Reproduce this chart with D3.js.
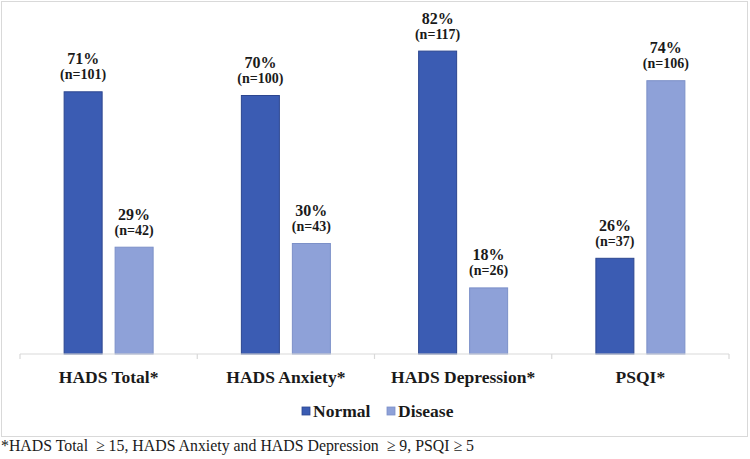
<!DOCTYPE html>
<html>
<head>
<meta charset="utf-8">
<script src="https://cdn.jsdelivr.net/npm/d3@7"></script>
<style>
  html, body { margin: 0; padding: 0; background: #fff; }
  svg { display: block; }
  svg text { font-family: "Liberation Serif", "Times New Roman", Times, serif; }
</style>
</head>
<body>
<svg id="chart" width="750" height="459"></svg>
<script>
const categories = ["HADS Total*", "HADS Anxiety*", "HADS Depression*", "PSQI*"];
const seriesNames = ["Normal", "Disease"];
const normalPct = [71, 70, 82, 26];
const normalN = [101, 100, 117, 37];
const diseasePct = [29, 30, 18, 74];
const diseaseN = [42, 43, 26, 106];
const footnote = "*HADS Total  \u2265 15, HADS Anxiety and HADS Depression  \u2265 9, PSQI \u2265 5";

const colors = { Normal: "#3B5CB3", Disease: "#8EA1D8" };
const strokes = { Normal: "#2C4690", Disease: "#7C90C8" };

const svg = d3.select("#chart");

// frame
svg.append("rect").attr("x", 1.5).attr("y", 1.5).attr("width", 746).attr("height", 435)
  .attr("fill", "#fff").attr("stroke", "#d9d9d9").attr("stroke-width", 1);

const x0 = d3.scaleBand().domain(categories).range([20, 729]).padding(0);
const x1 = d3.scaleBand().domain(seriesNames).range([-45, 45]).paddingInner(0.235).paddingOuter(0);
const y = d3.scaleLinear().domain([0, 100]).range([354, -16]);

const data = [];
categories.forEach((c, i) => {
  data.push({ cat: c, series: "Normal", pct: normalPct[i], n: normalN[i] });
  data.push({ cat: c, series: "Disease", pct: diseasePct[i], n: diseaseN[i] });
});

const bx = d => x0(d.cat) + x0.bandwidth() / 2 + x1(d.series);

svg.append("g").selectAll("rect").data(data).join("rect")
  .attr("x", d => bx(d) + 0.5)
  .attr("y", d => y(d.pct) + 0.5)
  .attr("width", x1.bandwidth() - 1)
  .attr("height", d => y(0) - y(d.pct) - 0.5)
  .attr("fill", d => colors[d.series])
  .attr("stroke", d => strokes[d.series])
  .attr("stroke-width", 1);

// axis
const axisG = svg.append("g").attr("transform", "translate(0,354)");
axisG.append("line").attr("x1", 20).attr("x2", 729).attr("stroke", "#d9d9d9").attr("stroke-width", 1.2);
const tickPos = categories.map(c => x0(c)).concat([x0.range()[1]]);
axisG.selectAll("line.tick").data(tickPos).join("line").attr("class", "tick")
  .attr("x1", d => d).attr("x2", d => d).attr("y1", 0).attr("y2", 5)
  .attr("stroke", "#d9d9d9").attr("stroke-width", 1.2);
axisG.selectAll("text").data(categories).join("text")
  .attr("x", d => x0(d) + x0.bandwidth() / 2)
  .attr("y", 29)
  .attr("text-anchor", "middle")
  .style("font-weight", "bold").style("font-size", "17.5px")
  .attr("fill", "#1a1a1a")
  .text(d => d);

// labels
const lab = svg.append("g");
lab.selectAll("text.pct").data(data).join("text").attr("class", "pct")
  .attr("x", d => bx(d) + x1.bandwidth() / 2)
  .attr("y", d => y(d.pct) - 27)
  .attr("text-anchor", "middle")
  .style("font-weight", "bold").style("font-size", "16px")
  .attr("fill", "#1a1a1a")
  .text(d => d.pct + "%");
lab.selectAll("text.n").data(data).join("text").attr("class", "n")
  .attr("x", d => bx(d) + x1.bandwidth() / 2)
  .attr("y", d => y(d.pct) - 12)
  .attr("text-anchor", "middle")
  .style("font-weight", "bold").style("font-size", "14px")
  .attr("fill", "#1a1a1a")
  .text(d => "(n=" + d.n + ")");

// legend
const legend = svg.append("g");
const legX = { Normal: 302, Disease: 387 };
seriesNames.forEach(s => {
  legend.append("rect").attr("x", legX[s]).attr("y", 407).attr("width", 8).attr("height", 8)
    .attr("fill", colors[s]).attr("stroke", strokes[s]).attr("stroke-width", 0.8);
  legend.append("text").attr("x", legX[s] + 11).attr("y", 417)
    .style("font-weight", "bold").style("font-size", "17.5px")
    .attr("fill", "#1a1a1a").text(s);
});

// footnote
svg.append("text").attr("x", 1).attr("y", 451)
  .style("font-size", "17px").style("white-space", "pre")
  .attr("textLength", 473).attr("lengthAdjust", "spacingAndGlyphs")
  .attr("fill", "#1a1a1a").text(footnote);
</script>
</body>
</html>
